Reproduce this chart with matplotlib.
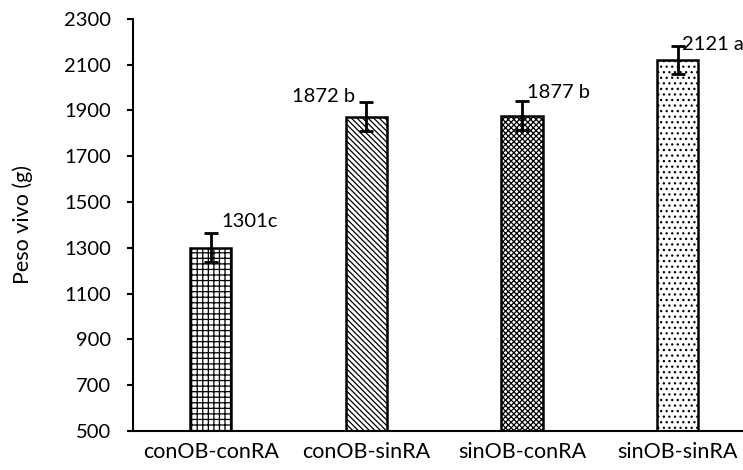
import numpy as np
import matplotlib
matplotlib.use("Agg")
import matplotlib.pyplot as plt

plt.rcParams['font.family'] = ['Lato', 'DejaVu Sans']
plt.rcParams['hatch.linewidth'] = 0.9

categorias = ['conOB-conRA', 'conOB-sinRA', 'sinOB-conRA', 'sinOB-sinRA']
peso = [1301, 1872, 1877, 2121]
error = [62, 63, 62, 61]
etiquetas = ['1301c', '1872 b', '1877 b', '2121 a']
# label anchor (x offset in category units, y value) and alignment
etiq_pos = [(0.07, 1415, 'left'), (-0.07, 1962, 'right'), (0.03, 1979, 'left'), (0.03, 2189, 'left')]
tramas = ['+++', '\\\\\\\\\\\\', 'xxxxxx', '...']

fig = plt.figure(figsize=(7.43, 4.70), dpi=100)
ax = fig.add_axes([0.179, 0.083, 0.821, 0.877])

x = np.arange(len(categorias))
ax.bar(x, peso, width=0.265, color='white', edgecolor='black', linewidth=1.8,
       hatch=tramas, zorder=2)
ax.errorbar(x, peso, yerr=error, fmt='none', ecolor='black', elinewidth=2,
            capsize=5, capthick=2, zorder=3)

for xi, (dx, yv, ha), txt in zip(x, etiq_pos, etiquetas):
    ax.text(xi + dx, yv, txt, ha=ha, va='center', fontsize=14.5)

ax.set_xlim(-0.5, 3.42)
ax.set_ylim(500, 2300)
ax.set_yticks(np.arange(500, 2301, 200))
ax.set_xticks(x)
ax.set_xticklabels(categorias)
ax.set_ylabel('Peso vivo (g)', fontsize=15.5, labelpad=22)

for s in ['top', 'right']:
    ax.spines[s].set_visible(False)
for s in ['left', 'bottom']:
    ax.spines[s].set_linewidth(1.5)
ax.tick_params(axis='y', length=4, width=1.5, labelsize=14.5, pad=12)
ax.tick_params(axis='x', length=0, labelsize=15.5, pad=8)

plt.savefig('out.png', dpi=100)
